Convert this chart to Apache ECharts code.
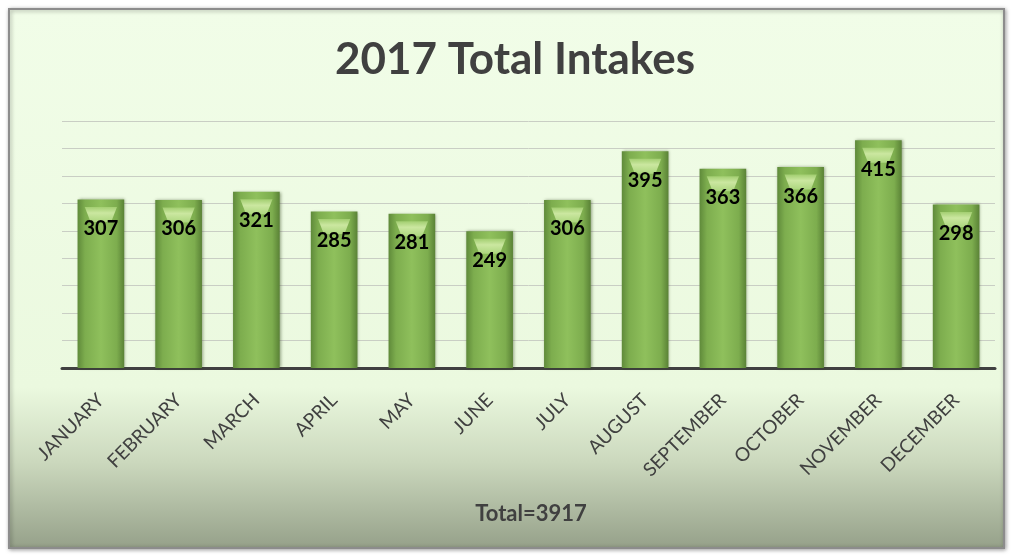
<!DOCTYPE html>
<html>
<head>
<meta charset="utf-8">
<script src="https://cdn.jsdelivr.net/npm/echarts@6/dist/echarts.min.js"></script>
<style>
  html, body { margin: 0; padding: 0; background: #ffffff; }
  #chart { width: 1013px; height: 555px; }
</style>
</head>
<body>
<div id="chart"></div>
<script>
// Monthly intake counts for 2017
const months = ['JANUARY', 'FEBRUARY', 'MARCH', 'APRIL', 'MAY', 'JUNE',
                'JULY', 'AUGUST', 'SEPTEMBER', 'OCTOBER', 'NOVEMBER', 'DECEMBER'];
const intakes = [307, 306, 321, 285, 281, 249, 306, 395, 363, 366, 415, 298];
const totalIntakes = 3917;
const titleText = '2017 Total Intakes';

const chart = echarts.init(document.getElementById('chart'), null, { renderer: 'canvas' });

const barFill = new echarts.graphic.LinearGradient(0, 0, 1, 0, [
  { offset: 0, color: '#5f8a3a' },
  { offset: 0.16, color: '#7dad4e' },
  { offset: 0.5, color: '#8fc05c' },
  { offset: 0.84, color: '#7dad4e' },
  { offset: 1, color: '#5a8236' }
]);

const capFill = new echarts.graphic.LinearGradient(0, 0, 0, 1, [
  { offset: 0, color: '#a6d174' },
  { offset: 0.4, color: '#d2eca8' },
  { offset: 1, color: '#b0d982' }
]);

const fontFamily = 'Lato, "Open Sans", sans-serif';

chart.setOption({
  animation: false,
  graphic: [{
    type: 'rect',
    z: -10,
    shape: { x: 9, y: 9, width: 995, height: 539 },
    style: {
      fill: new echarts.graphic.LinearGradient(0, 0, 0, 1, [
        { offset: 0, color: '#f1fde8' },
        { offset: 0.7, color: '#ebf9df' },
        { offset: 0.84, color: '#cbd8bd' },
        { offset: 1, color: '#95a089' }
      ]),
      stroke: '#8c8c8c',
      lineWidth: 2,
      shadowBlur: 4,
      shadowColor: 'rgba(0,0,0,0.35)',
      shadowOffsetX: 1,
      shadowOffsetY: 1
    }
  }],
  title: [{
    text: titleText,
    left: 510,
    textAlign: 'center',
    top: 33,
    textStyle: { fontFamily, fontWeight: 'bold', fontSize: 44, color: '#404040' }
  }, {
    text: 'Total=' + totalIntakes,
    left: 526,
    textAlign: 'center',
    top: 498,
    textStyle: { fontFamily, fontWeight: 'bold', fontSize: 22, color: '#404040' }
  }],
  grid: { left: 62, right: 18, top: 121, bottom: 187 },
  xAxis: {
    type: 'category',
    data: months,
    axisLine: { lineStyle: { color: '#404040', width: 3 } },
    axisTick: { show: false },
    axisLabel: {
      rotate: 45,
      interval: 0,
      margin: 29,
      fontFamily,
      fontSize: 19,
      color: '#404040'
    }
  },
  yAxis: {
    type: 'value',
    min: 0,
    max: 450,
    interval: 50,
    axisLine: { show: false },
    axisTick: { show: false },
    axisLabel: { show: false },
    splitLine: { lineStyle: { color: '#c9cec4', width: 1 } }
  },
  series: [{
    // bar bodies
    type: 'bar',
    data: intakes,
    barWidth: '60%',
    itemStyle: {
      color: barFill,
      shadowBlur: 3,
      shadowColor: 'rgba(40,60,20,0.45)',
      shadowOffsetX: 1
    },
    z: 2
  }, {
    // bevelled highlight at the top of each bar
    type: 'pictorialBar',
    data: intakes,
    symbol: 'path://M0,0 L100,0 L82,100 L18,100 Z',
    symbolSize: ['60%', 15],
    symbolPosition: 'end',
    symbolOffset: [0, '50%'],
    itemStyle: { color: capFill, opacity: 0.9 },
    silent: true,
    z: 3
  }, {
    // value labels drawn above the highlight
    type: 'bar',
    data: intakes,
    barWidth: '60%',
    barGap: '-100%',
    itemStyle: { color: 'rgba(0,0,0,0)' },
    label: {
      show: true,
      position: 'insideTop',
      distance: 19,
      fontFamily,
      fontWeight: 'bold',
      fontSize: 20,
      color: '#000000'
    },
    silent: true,
    z: 4
  }]
});
</script>
</body>
</html>
